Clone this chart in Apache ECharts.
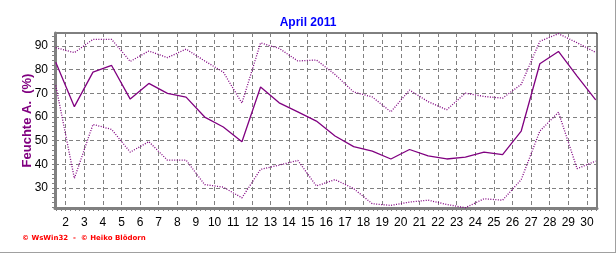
<!DOCTYPE html>
<html><head><meta charset="utf-8">
<script src="https://cdn.jsdelivr.net/npm/echarts@6/dist/echarts.min.js"></script>
<style>html,body{margin:0;padding:0;background:#fff}#c{width:616px;height:253px}</style>
</head><body><div id="c"></div>
<script>
const days = [1,2,3,4,5,6,7,8,9,10,11,12,13,14,15,16,17,18,19,20,21,22,23,24,25,26,27,28,29,30];
const humMean = [83.1,64.4,79.0,81.8,67.6,74.2,70.0,68.4,60.0,55.8,49.6,72.7,66.0,62.2,58.3,52.0,47.5,45.6,42.3,46.3,43.6,42.3,43.1,45.2,44.1,54.1,82.5,87.7,77.3,67.3];
const humMax = [89.3,87.2,92.8,92.8,83.5,87.9,85.1,88.7,83.7,79.0,65.9,91.3,89.0,83.7,84.1,78.0,70.6,68.5,62.2,71.4,66.5,63.1,70.1,68.7,68.0,73.8,92.0,95.2,91.4,87.3];
const humMin = [73.4,34.1,56.9,54.8,45.2,49.6,41.8,41.8,31.5,30.4,25.9,37.9,39.7,41.7,30.9,33.6,29.8,23.4,22.7,24.1,24.9,23.1,21.7,25.5,24.9,33.6,54.1,62.0,38.2,41.4];
const xTickLabels = [2,3,4,5,6,7,8,9,10,11,12,13,14,15,16,17,18,19,20,21,22,23,24,25,26,27,28,29,30];
const yTickLabels = [30,40,50,60,70,80,90];

const DAY_OFFSET = 0.47;
const xMin = 1.43, xMax = 30.54, yMin = 21.6, yMax = 95.5;
const xMinor = []; for (let v = 1.5; v <= 30.5001; v += 0.25) xMinor.push(+v.toFixed(2));
const yMinor = []; for (let v = 22; v <= 94; v += 2) yMinor.push(v);
const pts = arr => arr.map((v, i) => [days[i] + DAY_OFFSET, v]);
const purple = '#800080', gridGray = '#808080';

const chart = echarts.init(document.getElementById('c'), null, {renderer: 'canvas'});
chart.setOption({
  animation: false,
  title: {text: 'April 2011', left: 'center', top: 12,
    textStyle: {color: '#0000ff', fontFamily: 'Arial, Liberation Sans', fontWeight: 'bold', fontSize: 12}},
  grid: {left: 55, right: 19, top: 33, bottom: 45, show: true, borderColor: '#000', borderWidth: 1, backgroundColor: 'transparent'},
  xAxis: [
    {type: 'value', min: xMin, max: xMax, position: 'bottom',
      axisLine: {show: true, lineStyle: {color: gridGray, width: 3}},
      axisTick: {show: true, customValues: xMinor, length: 3, lineStyle: {color: gridGray, width: 1}},
      axisLabel: {customValues: xTickLabels, color: '#000', fontFamily: 'Arial, Liberation Sans', fontSize: 12, margin: 9},
      splitLine: {show: false}},
    {type: 'value', min: xMin, max: xMax, position: 'bottom',
      axisLine: {show: false},
      axisTick: {show: false, customValues: xTickLabels},
      axisLabel: {show: false},
      splitLine: {show: true, lineStyle: {color: gridGray, type: [4, 3], width: 1}}}
  ],
  yAxis: [
    {type: 'value', min: yMin, max: yMax, position: 'left',
      name: 'Feuchte A.  (%)', nameLocation: 'middle', nameGap: 21, nameMoveOverlap: false,
      nameTextStyle: {color: purple, fontFamily: 'Arial, Liberation Sans', fontWeight: 'bold', fontSize: 13},
      axisLine: {show: true, lineStyle: {color: gridGray, width: 3}},
      axisTick: {show: true, customValues: yMinor, length: 3, lineStyle: {color: gridGray, width: 1}},
      axisLabel: {customValues: yTickLabels, color: '#000', fontFamily: 'Arial, Liberation Sans', fontSize: 12, margin: 7},
      splitLine: {show: false}},
    {type: 'value', min: yMin, max: yMax, position: 'left',
      axisLine: {show: false},
      axisTick: {show: false, customValues: yTickLabels},
      axisLabel: {show: false},
      splitLine: {show: true, lineStyle: {color: gridGray, type: [4, 3], width: 1}}}
  ],
  series: [
    {type: 'line', name: 'max', data: pts(humMax), symbol: 'none', xAxisIndex: 0, yAxisIndex: 0,
      lineStyle: {color: purple, width: 1.3, type: [1, 1.5]}},
    {type: 'line', name: 'mean', data: pts(humMean), symbol: 'none', xAxisIndex: 0, yAxisIndex: 0,
      lineStyle: {color: purple, width: 1.3}},
    {type: 'line', name: 'min', data: pts(humMin), symbol: 'none', xAxisIndex: 0, yAxisIndex: 0,
      lineStyle: {color: purple, width: 1.3, type: [1, 1.5]}}
  ],
  graphic: [
    {type: 'text', left: 22, top: 235, style: {text: '\u00a9 WsWin32  -  \u00a9 Heiko Bl\u00f6dorn', fill: '#ff0000',
      font: 'bold 7px Verdana, DejaVu Sans'}},
    {type: 'line', shape: {x1: 0, y1: 252.5, x2: 616, y2: 252.5}, style: {stroke: '#a0a0a0', lineWidth: 1}},
    {type: 'line', shape: {x1: 615.5, y1: 0, x2: 615.5, y2: 253}, style: {stroke: '#a0a0a0', lineWidth: 1}}
  ]
});
</script></body></html>
